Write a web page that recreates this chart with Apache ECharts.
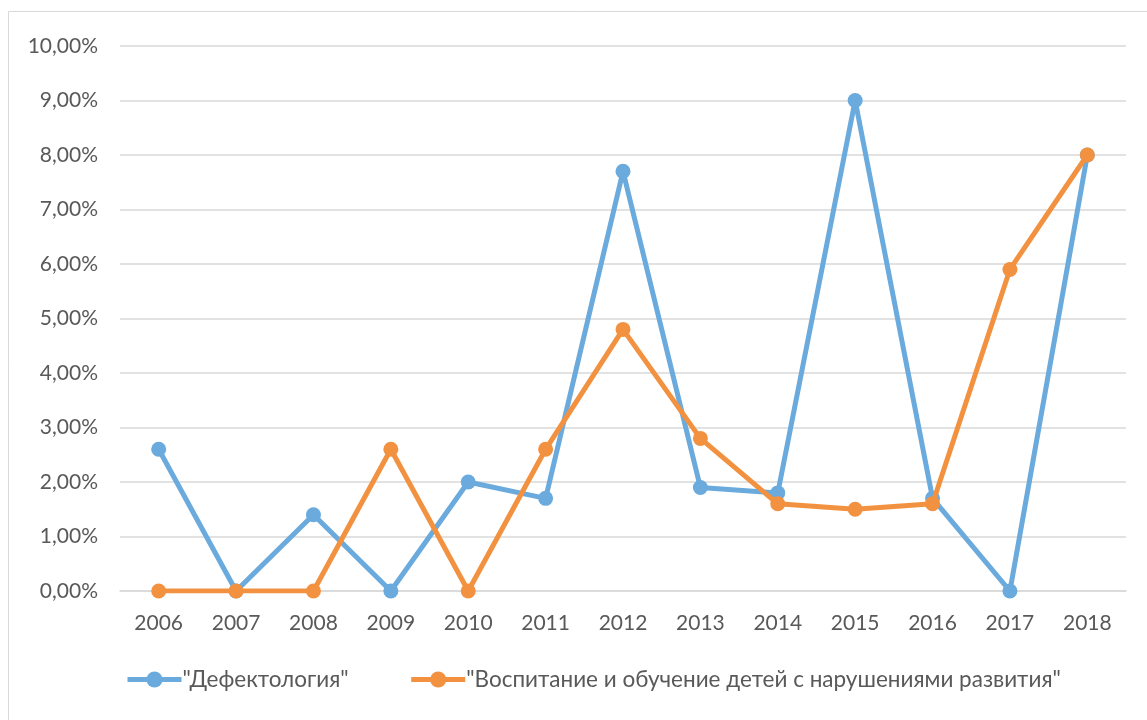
<!DOCTYPE html>
<html><head><meta charset="utf-8">
<script src="https://cdn.jsdelivr.net/npm/echarts@6/dist/echarts.min.js"></script>
<style>html,body{margin:0;padding:0;background:#fff}#c{width:1147px;height:720px}</style>
</head><body><div id="c"></div>
<script>
const years = ['2006','2007','2008','2009','2010','2011','2012','2013','2014','2015','2016','2017','2018'];
const defektologiya = [2.6, 0, 1.4, 0, 2.0, 1.7, 7.7, 1.9, 1.8, 9.0, 1.7, 0, 8.0];
const vospitanie = [0, 0, 0, 2.6, 0, 2.6, 4.8, 2.8, 1.6, 1.5, 1.6, 5.9, 8.0];
const seriesNames = ['"Дефектология"', '"Воспитание и обучение детей с нарушениями развития"'];
const colors = ['#6AAADC', '#F29240'];

const font = 'Lato, "Open Sans", "Liberation Sans", sans-serif';
const chart = echarts.init(document.getElementById('c'), null, {renderer: 'canvas'});
chart.setOption({
  animation: false,
  backgroundColor: '#fff',
  graphic: [{type: 'rect', shape: {x: 8.5, y: 11.5, width: 1150, height: 720}, style: {fill: 'none', stroke: '#d9d9d9', lineWidth: 1}, silent: true}],
  grid: {left: 120, right: 21, top: 46, bottom: 129, containLabel: false},
  legend: {
    top: 663, left: 120,
    itemWidth: 54, itemHeight: 20, itemGap: 60,
    lineStyle: {width: 5},
    textStyle: {fontFamily: font, fontSize: 22.5, color: '#595959', padding: [0,0,0,-4]},
    data: seriesNames.map((n, i) => ({name: n, lineStyle: {width: 5, color: colors[i]}, itemStyle: {color: colors[i]}}))
  },
  xAxis: {
    type: 'category', data: years, boundaryGap: true,
    axisLine: {show: true, lineStyle: {color: '#d9d9d9', width: 1.5}},
    axisTick: {show: false},
    axisLabel: {fontFamily: font, fontSize: 21, color: '#595959', margin: 22}
  },
  yAxis: {
    type: 'value', min: 0, max: 10, interval: 1,
    axisLine: {show: false}, axisTick: {show: false},
    splitLine: {lineStyle: {color: '#d9d9d9', width: 1.5}},
    axisLabel: {fontFamily: font, fontSize: 21, color: '#595959', margin: 22,
      formatter: v => v.toFixed(2).replace('.', ',') + '%'}
  },
  series: [
    {name: seriesNames[0], type: 'line', data: defektologiya, symbol: 'circle', symbolSize: 15,
     lineStyle: {width: 5, color: colors[0]}, itemStyle: {color: colors[0]}, z: 2},
    {name: seriesNames[1], type: 'line', data: vospitanie, symbol: 'circle', symbolSize: 15,
     lineStyle: {width: 5, color: colors[1]}, itemStyle: {color: colors[1]}, z: 3}
  ]
});
</script></body></html>
